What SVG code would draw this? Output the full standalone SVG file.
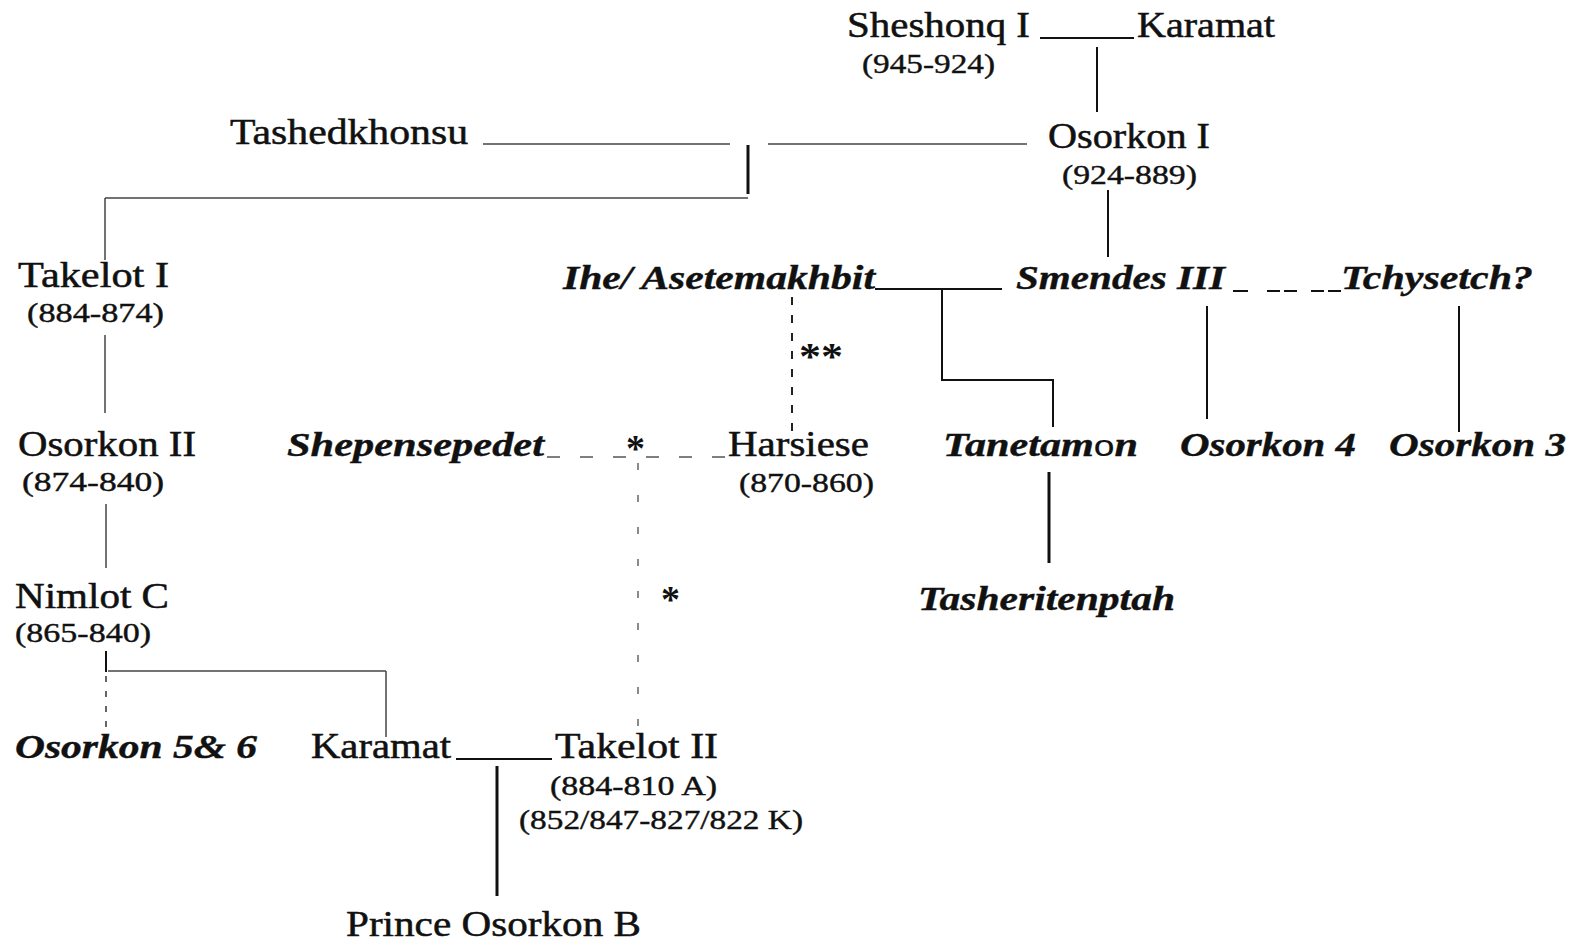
<svg xmlns="http://www.w3.org/2000/svg" width="1581" height="942" viewBox="0 0 1581 942">
<style>
.n{font-family:"Liberation Serif","Times New Roman",serif;font-size:35px;fill:#111;stroke:#111;stroke-width:0.5}
.d{font-family:"Liberation Serif","Times New Roman",serif;font-size:27px;fill:#111;stroke:#111;stroke-width:0.4}
.b{font-family:"Liberation Serif","Times New Roman",serif;font-size:34px;font-weight:bold;font-style:italic;fill:#111;stroke:#111;stroke-width:0.4}
.a{font-family:"Liberation Serif","Times New Roman",serif;font-size:38px;font-weight:bold;fill:#111}
.s{stroke:#111;stroke-width:2;fill:none}
.k{stroke:#111;stroke-width:3;fill:none}
.t{stroke:#444;stroke-width:1.5;fill:none}
.dv{stroke:#222;stroke-width:2;stroke-dasharray:8 10;fill:none}
.dh{stroke:#555;stroke-width:1.5;stroke-dasharray:13 20;fill:none}
.dl{stroke:#666;stroke-width:1.5;stroke-dasharray:7 25;fill:none}
.dn{stroke:#333;stroke-width:1.5;stroke-dasharray:6 9;fill:none}
</style>
<rect width="1581" height="942" fill="#fff"/>
<g id="connectors">
  <line class="s" x1="1040" y1="38" x2="1134" y2="38"/>
  <line class="s" x1="1097" y1="47" x2="1097" y2="112"/>
  <line class="s" x1="1108" y1="190" x2="1108" y2="257"/>
  <line class="t" x1="483" y1="144" x2="730" y2="144"/>
  <line class="t" x1="768" y1="144" x2="1027" y2="144"/>
  <line class="k" x1="748" y1="145" x2="748" y2="194"/>
  <line class="t" x1="105" y1="198" x2="748" y2="198"/>
  <line class="t" x1="105" y1="198" x2="105" y2="260"/>
  <line class="t" x1="105" y1="335" x2="105" y2="413"/>
  <line class="t" x1="106" y1="504" x2="106" y2="568"/>
  <line class="s" x1="106" y1="651" x2="106" y2="672"/>
  <line class="t" x1="108" y1="671" x2="386" y2="671"/>
  <line class="t" x1="386" y1="671" x2="386" y2="737"/>
  <line class="dn" x1="106" y1="676" x2="106" y2="747"/>
  <line class="s" x1="456" y1="759" x2="552" y2="759"/>
  <line class="k" x1="497" y1="766" x2="497" y2="896"/>
  <line class="s" x1="875" y1="289" x2="1002" y2="289"/>
  <polyline class="s" points="942,289 942,380 1053,380 1053,427"/>
  <path class="s" d="M1233 291h15M1267 291h13M1284 291h13M1311 291h13M1328 291h13"/>
  <line class="s" x1="1207" y1="306" x2="1207" y2="419"/>
  <line class="s" x1="1459" y1="306" x2="1459" y2="432"/>
  <line class="dv" x1="792" y1="297" x2="792" y2="437"/>
  <line class="dh" x1="547" y1="457" x2="730" y2="457"/>
  <line class="dl" x1="638" y1="463" x2="638" y2="732"/>
  <line class="k" x1="1049" y1="472" x2="1049" y2="563"/>
  <text class="a" x="799" y="369" textLength="44" lengthAdjust="spacingAndGlyphs">**</text>
  <text class="a" x="626" y="461">*</text>
  <text class="a" x="661" y="612">*</text>
</g>
<g id="sheshonq1"><text class="n" x="847" y="37" textLength="183" lengthAdjust="spacingAndGlyphs">Sheshonq I</text><text class="d" x="862" y="73" textLength="133" lengthAdjust="spacingAndGlyphs">(945-924)</text></g>
<g id="karamat1"><text class="n" x="1137" y="37" textLength="138" lengthAdjust="spacingAndGlyphs">Karamat</text></g>
<g id="osorkon1"><text class="n" x="1048" y="148" textLength="162" lengthAdjust="spacingAndGlyphs">Osorkon I</text><text class="d" x="1062" y="184" textLength="135" lengthAdjust="spacingAndGlyphs">(924-889)</text></g>
<g id="tashedkhonsu"><text class="n" x="230" y="144" textLength="238" lengthAdjust="spacingAndGlyphs">Tashedkhonsu</text></g>
<g id="takelot1"><text class="n" x="18" y="287" textLength="151" lengthAdjust="spacingAndGlyphs">Takelot I</text><text class="d" x="27" y="322" textLength="137" lengthAdjust="spacingAndGlyphs">(884-874)</text></g>
<g id="osorkon2"><text class="n" x="18" y="456" textLength="178" lengthAdjust="spacingAndGlyphs">Osorkon II</text><text class="d" x="22" y="491" textLength="142" lengthAdjust="spacingAndGlyphs">(874-840)</text></g>
<g id="nimlotC"><text class="n" x="15" y="608" textLength="154" lengthAdjust="spacingAndGlyphs">Nimlot C</text><text class="d" x="15" y="642" textLength="136" lengthAdjust="spacingAndGlyphs">(865-840)</text></g>
<g id="osorkon56"><text class="b" x="15" y="758" textLength="242" lengthAdjust="spacingAndGlyphs">Osorkon 5&amp; 6</text></g>
<g id="karamat2"><text class="n" x="311" y="758" textLength="140" lengthAdjust="spacingAndGlyphs">Karamat</text></g>
<g id="takelot2"><text class="n" x="555" y="758" textLength="163" lengthAdjust="spacingAndGlyphs">Takelot II</text><text class="d" x="550" y="795" textLength="167" lengthAdjust="spacingAndGlyphs">(884-810 A)</text><text class="d" x="519" y="829" textLength="284" lengthAdjust="spacingAndGlyphs">(852/847-827/822 K)</text></g>
<g id="princeOsorkonB"><text class="n" x="346" y="936" textLength="295" lengthAdjust="spacingAndGlyphs">Prince Osorkon B</text></g>
<g id="ihe"><text class="b" x="563" y="289" textLength="312" lengthAdjust="spacingAndGlyphs">Ihe/ Asetemakhbit</text></g>
<g id="smendes3"><text class="b" x="1016" y="289" textLength="209" lengthAdjust="spacingAndGlyphs">Smendes III</text></g>
<g id="tchysetch"><text class="b" x="1341" y="289" textLength="192" lengthAdjust="spacingAndGlyphs">Tchysetch?</text></g>
<g id="shepensepedet"><text class="b" x="287" y="456" textLength="257" lengthAdjust="spacingAndGlyphs">Shepensepedet</text></g>
<g id="harsiese"><text class="n" x="728" y="456" textLength="141" lengthAdjust="spacingAndGlyphs">Harsiese</text><text class="d" x="739" y="492" textLength="135" lengthAdjust="spacingAndGlyphs">(870-860)</text></g>
<g id="tanetamon"><text class="b" x="943" y="456" textLength="195" lengthAdjust="spacingAndGlyphs">Tanetam<tspan style="font-family:'Liberation Sans',sans-serif;font-weight:normal;font-style:normal;font-size:30px;stroke-width:0.2">o</tspan>n</text></g>
<g id="osorkon4"><text class="b" x="1180" y="456" textLength="176" lengthAdjust="spacingAndGlyphs">Osorkon 4</text></g>
<g id="osorkon3"><text class="b" x="1389" y="456" textLength="177" lengthAdjust="spacingAndGlyphs">Osorkon 3</text></g>
<g id="tasheritenptah"><text class="b" x="918" y="610" textLength="257" lengthAdjust="spacingAndGlyphs">Tasheritenptah</text></g>
</svg>
